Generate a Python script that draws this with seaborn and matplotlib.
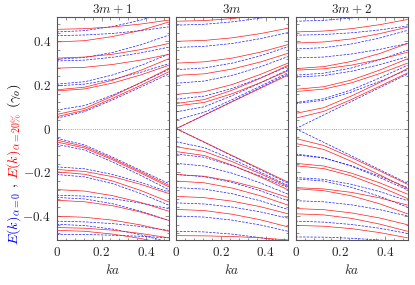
import matplotlib
matplotlib.use("Agg")
import pandas as pd
import matplotlib.pyplot as plt
import seaborn as sns
from matplotlib.ticker import MultipleLocator, FuncFormatter

# -----------------------------
# Data (energies in units of gamma_o)
# -----------------------------
ka = [0, 0.125, 0.25, 0.375, 0.5]
titles = ["$3m+1$", "$3m$", "$3m+2$"]

# panel 1 : 3m+1
p1_blue = [
    [0.048, 0.078, 0.132, 0.190, 0.250],
    [0.085, 0.106, 0.154, 0.210, 0.271],
    [0.196, 0.204, 0.226, 0.258, 0.297],
    [0.204, 0.215, 0.246, 0.289, 0.341],
    [0.310, 0.314, 0.327, 0.347, 0.373],
    [0.318, 0.326, 0.349, 0.384, 0.428],
    [0.426, 0.429, 0.436, 0.449, 0.466],
    [0.443, 0.449, 0.468, 0.497, 0.535],
    [-0.044, -0.075, -0.131, -0.191, -0.251],
    [-0.072, -0.098, -0.153, -0.214, -0.279],
    [-0.175, -0.184, -0.210, -0.246, -0.290],
    [-0.210, -0.221, -0.252, -0.297, -0.350],
    [-0.305, -0.309, -0.321, -0.341, -0.366],
    [-0.315, -0.322, -0.344, -0.378, -0.420],
    [-0.424, -0.427, -0.435, -0.448, -0.466],
    [-0.438, -0.444, -0.460, -0.486, -0.520],
    [-0.484, -0.485, -0.488, -0.493, -0.500],
]
p1_red = [
    [0.055, 0.084, 0.139, 0.198, 0.260],
    [0.065, 0.093, 0.149, 0.211, 0.275],
    [0.173, 0.182, 0.209, 0.246, 0.290],
    [0.178, 0.190, 0.222, 0.267, 0.320],
    [0.277, 0.281, 0.294, 0.314, 0.340],
    [0.323, 0.328, 0.341, 0.362, 0.390],
    [0.397, 0.403, 0.422, 0.450, 0.488],
    [0.455, 0.458, 0.466, 0.479, 0.497],
    [-0.052, -0.082, -0.137, -0.197, -0.259],
    [-0.061, -0.089, -0.143, -0.203, -0.266],
    [-0.187, -0.196, -0.220, -0.255, -0.297],
    [-0.198, -0.209, -0.240, -0.283, -0.335],
    [-0.279, -0.286, -0.307, -0.338, -0.378],
    [-0.328, -0.335, -0.353, -0.382, -0.420],
    [-0.401, -0.406, -0.419, -0.441, -0.470],
    [-0.453, -0.456, -0.465, -0.480, -0.500],
    [-0.466, -0.470, -0.483, -0.503, -0.530],
]

# panel 2 : 3m
p2_blue = [
    [0.0, 0.0625, 0.125, 0.1875, 0.250],
    [0.040, 0.075, 0.133, 0.194, 0.256],
    [0.077, 0.100, 0.151, 0.209, 0.270],
    [0.135, 0.149, 0.184, 0.232, 0.285],
    [0.208, 0.218, 0.244, 0.283, 0.330],
    [0.270, 0.278, 0.300, 0.333, 0.375],
    [0.372, 0.377, 0.390, 0.412, 0.440],
    [0.474, 0.478, 0.489, 0.506, 0.530],
    [0.0, -0.0625, -0.125, -0.1875, -0.250],
    [-0.060, -0.087, -0.140, -0.199, -0.260],
    [-0.116, -0.131, -0.169, -0.217, -0.270],
    [-0.159, -0.171, -0.204, -0.248, -0.300],
    [-0.210, -0.220, -0.246, -0.284, -0.330],
    [-0.270, -0.277, -0.298, -0.330, -0.370],
    [-0.340, -0.345, -0.359, -0.381, -0.410],
    [-0.400, -0.405, -0.419, -0.441, -0.470],
    [-0.470, -0.473, -0.483, -0.499, -0.520],
]
p2_red = [
    [0.0, 0.061, 0.123, 0.184, 0.245],
    [0.104, 0.120, 0.160, 0.210, 0.265],
    [0.115, 0.133, 0.176, 0.230, 0.290],
    [0.157, 0.169, 0.202, 0.248, 0.300],
    [0.244, 0.251, 0.273, 0.305, 0.345],
    [0.300, 0.306, 0.323, 0.350, 0.385],
    [0.400, 0.404, 0.416, 0.435, 0.460],
    [0.492, 0.495, 0.504, 0.520, 0.540],
    [0.0, -0.061, -0.123, -0.184, -0.245],
    [-0.083, -0.104, -0.151, -0.206, -0.265],
    [-0.105, -0.123, -0.167, -0.221, -0.280],
    [-0.210, -0.218, -0.241, -0.274, -0.315],
    [-0.240, -0.248, -0.272, -0.307, -0.350],
    [-0.310, -0.316, -0.332, -0.357, -0.390],
    [-0.370, -0.375, -0.392, -0.417, -0.450],
    [-0.490, -0.491, -0.494, -0.500, -0.510],
]

# panel 3 : 3m+2
p3_blue = [
    [0.0, 0.0625, 0.125, 0.1875, 0.250],
    [0.115, 0.130, 0.168, 0.216, 0.270],
    [0.120, 0.137, 0.178, 0.232, 0.290],
    [0.236, 0.243, 0.263, 0.293, 0.330],
    [0.245, 0.254, 0.278, 0.315, 0.360],
    [0.324, 0.328, 0.342, 0.363, 0.390],
    [0.365, 0.371, 0.388, 0.415, 0.450],
    [0.428, 0.431, 0.439, 0.452, 0.470],
    [0.492, 0.496, 0.507, 0.525, 0.550],
    [0.0, -0.0625, -0.125, -0.1875, -0.250],
    [-0.116, -0.133, -0.172, -0.224, -0.280],
    [-0.120, -0.135, -0.170, -0.217, -0.270],
    [-0.224, -0.232, -0.255, -0.288, -0.330],
    [-0.230, -0.240, -0.269, -0.310, -0.360],
    [-0.330, -0.335, -0.349, -0.371, -0.400],
    [-0.424, -0.428, -0.439, -0.456, -0.480],
    [-0.496, -0.497, -0.502, -0.510, -0.520],
]
p3_red = [
    [0.048, 0.079, 0.134, 0.194, 0.255],
    [0.070, 0.096, 0.150, 0.211, 0.275],
    [0.170, 0.181, 0.210, 0.252, 0.300],
    [0.180, 0.192, 0.223, 0.268, 0.320],
    [0.268, 0.274, 0.291, 0.317, 0.350],
    [0.275, 0.284, 0.308, 0.344, 0.390],
    [0.392, 0.397, 0.411, 0.435, 0.465],
    [0.443, 0.447, 0.458, 0.476, 0.500],
    [-0.045, -0.077, -0.133, -0.193, -0.255],
    [-0.068, -0.095, -0.150, -0.211, -0.275],
    [-0.159, -0.171, -0.204, -0.248, -0.300],
    [-0.170, -0.183, -0.217, -0.265, -0.320],
    [-0.270, -0.276, -0.292, -0.317, -0.350],
    [-0.275, -0.284, -0.308, -0.344, -0.390],
    [-0.366, -0.371, -0.386, -0.409, -0.440],
    [-0.390, -0.395, -0.411, -0.437, -0.470],
    [-0.443, -0.447, -0.458, -0.476, -0.500],
]

panels = [(p1_blue, p1_red), (p2_blue, p2_red), (p3_blue, p3_red)]


def bands_frame(blue, red):
    """Long table: una linha por ponto (ka, E) de cada banda."""
    rows = []
    for name, bands in (("a0", blue), ("a20", red)):
        for i, band in enumerate(bands):
            for k, e in zip(ka, band):
                rows.append({"ka": k, "E": e, "band": f"{name}_{i}", "series": name})
    return pd.DataFrame(rows)


# -----------------------------
# Figure
# -----------------------------
sns.set_theme(style="ticks")
plt.rcParams["font.family"] = ["DejaVu Serif"]
plt.rcParams["mathtext.fontset"] = "cm"

W, H = 415, 285
fig = plt.figure(figsize=(W / 100, H / 100), dpi=100)

lefts = [56.8, 176.2, 295.7]
ax_w, ax_top, ax_bot = 111.8, 17.3, 240.0

fmt = FuncFormatter(lambda v, p: "$%s$" % ("0" if abs(v) < 1e-9 else f"{v:g}"))

for j, (blue, red) in enumerate(panels):
    ax = fig.add_axes([lefts[j] / W, (H - ax_bot) / H, ax_w / W, (ax_bot - ax_top) / H])
    df = bands_frame(blue, red)
    sns.lineplot(data=df, x="ka", y="E", hue="series", style="series", units="band",
                 estimator=None, sort=False, ax=ax, legend=False, linewidth=0.5,
                 palette={"a0": "#1a1aff", "a20": "#ff1a1a"},
                 dashes={"a0": (3.5, 1.8), "a20": ""})
    ax.axhline(0, color="#888888", ls=":", lw=0.6, zorder=0)

    ax.set_xlim(0, 0.5)
    ax.set_ylim(-0.51, 0.51)
    ax.xaxis.set_major_locator(MultipleLocator(0.2))
    ax.xaxis.set_minor_locator(MultipleLocator(0.04))
    ax.yaxis.set_major_locator(MultipleLocator(0.2))
    ax.yaxis.set_minor_locator(MultipleLocator(0.04))
    ax.xaxis.set_major_formatter(fmt)
    ax.yaxis.set_major_formatter(fmt)
    ax.tick_params(which="both", direction="in", top=True, right=True,
                   color="#666666", width=0.5, labelsize=9.5, pad=4)
    ax.tick_params(which="major", length=3)
    ax.tick_params(which="minor", length=1.8)
    if j > 0:
        ax.tick_params(labelleft=False)
    for sp in ax.spines.values():
        sp.set_color("#555555")
        sp.set_linewidth(0.8)

    ax.set_title(titles[j], fontsize=9.5, pad=3)
    ax.set_xlabel("$ka$", fontsize=9.5, labelpad=3)
    ax.set_ylabel("")

# multi-coloured y label, built piece by piece
pieces = [(r"$E(k)_{\alpha=0}$", "#0000ff"), (r"$,$", "black"),
          (r"$E(k)_{\alpha=20\%}$", "#ff0000"), (r"$(\gamma_o)$", "black")]
fig.canvas.draw()
renderer = fig.canvas.get_renderer()
y = 40.0
for s, c in pieces:
    t = fig.text(14 / W, y / H, s, color=c, rotation=90,
                 ha="center", va="bottom", fontsize=10.2)
    bb = t.get_window_extent(renderer)
    y = bb.y1 + 4

fig.savefig("out.png", dpi=100)
